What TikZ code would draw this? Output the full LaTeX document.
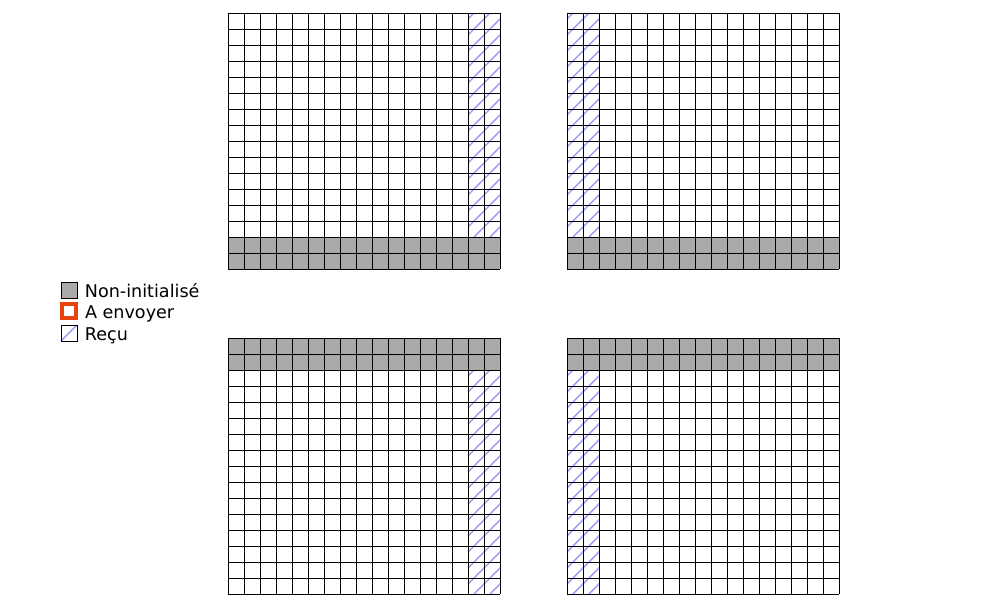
\documentclass[tikz,border=0pt]{standalone}
\usepackage{fontspec}
\setmainfont{DejaVu Sans}
\usetikzlibrary{positioning}
\definecolor{nonInit}{HTML}{AAAAAA}
\definecolor{aEnvoyer}{HTML}{E8420E}
\definecolor{recu}{HTML}{9090FA}

\begin{document}
\begin{tikzpicture}[x=0.025cm, y=-0.025cm, font=\fontsize{12.5}{15}\selectfont]
\tikzstyle{trait}=[black, line width=0.6pt]
\tikzstyle{hachure}=[recu, line width=0.8pt]
\tikzstyle{cle}=[draw, line width=0.6pt, minimum size=0.4cm, inner sep=0pt]
\tikzstyle{texte}=[inner sep=0pt, text height=0.42cm, text depth=0.07cm, right=0.18cm of #1]
\useasboundingbox (0,0) rectangle (1002,601);
% les quatre blocs : origine, ligne grise, ligne et colonne hachurees
\foreach \gx/\gy/\gr/\hr/\hc in {228/13/14/0/15, 567/13/14/0/0, 228/338/0/2/15, 567/338/0/2/0}
{
  \fill[nonInit] (\gx,\gy+\gr*16) rectangle ++(272,32);
  \begin{scope}
    \clip (\gx+\hc*16,\gy+\hr*16) rectangle ++(32,224);
    \foreach \k in {-15,...,2}
      \draw[hachure] (\gx+\hc*16+\k*16+6,\gy+\hr*16+224) -- ++(240,-240);
  \end{scope}
  \foreach \i in {0,...,17}
    \draw[trait] (\gx+\i*16,\gy) -- ++(0,256);
  \foreach \j in {0,...,16}
    \draw[trait] (\gx,\gy+\j*16) -- ++(272,0);
}
% legende
\node[cle, fill=nonInit] (cleNI) at (69,290) {};
\node[cle, draw=aEnvoyer, line width=2.5pt, fill=white, minimum size=0.34cm] (cleAE) at (69,311) {};
\node[cle, fill=white, path picture={\draw[hachure] (path picture bounding box.south west) -- (path picture bounding box.north east);}] (cleRE) at (69,333) {};
\node[texte=cleNI] (txtNI) {Non-initialisé};
\node[texte=cleAE] (txtAE) {A envoyer};
\node[texte=cleRE] (txtRE) {Reçu};
\end{tikzpicture}
\end{document}
